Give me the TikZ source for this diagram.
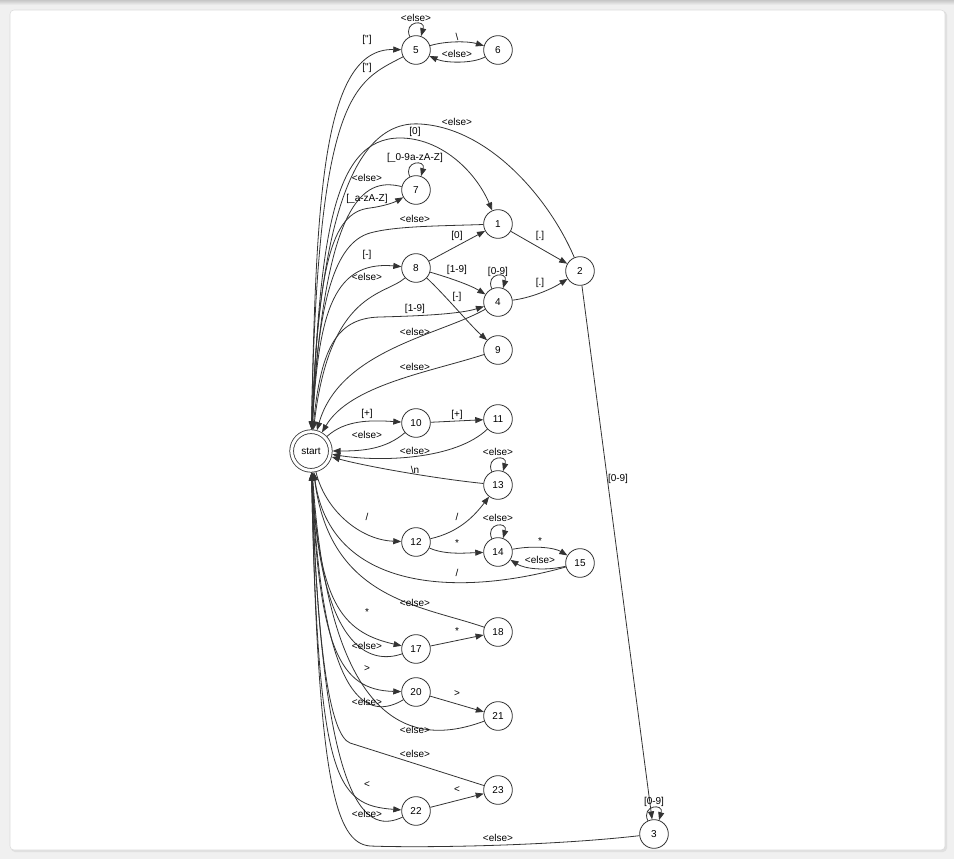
\documentclass[tikz,border=0pt]{standalone}
\usepackage{fontspec}
\setmainfont{Liberation Sans}[Ligatures=TeXOff]
\usetikzlibrary{arrows.meta}
\definecolor{bgc}{HTML}{F0F0F0}
\definecolor{ec}{HTML}{333333}
\begin{document}
\begin{tikzpicture}[x=0.75pt,y=-0.75pt,
  st/.style={circle,draw=ec,line width=0.6pt,minimum size=21.5pt,inner sep=0pt,font=\fontsize{7.5}{9}\selectfont},
  lab/.style={inner sep=0pt,font=\fontsize{7.5}{9}\selectfont},
  e/.style={draw=ec,line width=0.6pt,-{Triangle[length=6pt,width=4.5pt]}}]
\useasboundingbox (0,0) rectangle (954,859);
\fill[bgc] (0,0) rectangle (954,859);
\shade[top color=black!22,bottom color=bgc] (0,0) rectangle (954,5);
\fill[black!12,rounded corners=3pt] (11,11) rectangle (947,852);
\draw[black!14,fill=white,rounded corners=3pt] (10,10) rectangle (945,850);
% nodes
\node[st,double=white,double distance=2.2pt,minimum size=29pt,outer sep=1.7pt] (start) at (311,451) {start};
\node[st] (n5) at (416,50) {5};
\node[st] (n6) at (498,50) {6};
\node[st] (n7) at (416,190) {7};
\node[st] (n1) at (498,224) {1};
\node[st] (n2) at (580,271) {2};
\node[st] (n8) at (416,268) {8};
\node[st] (n4) at (498,302) {4};
\node[st] (n9) at (498,350) {9};
\node[st] (n10) at (416,423) {10};
\node[st] (n11) at (498,419) {11};
\node[st] (n13) at (498,485) {13};
\node[st] (n12) at (416,542) {12};
\node[st] (n14) at (498,552) {14};
\node[st] (n15) at (580,563) {15};
\node[st] (n18) at (498,632) {18};
\node[st] (n17) at (416,649) {17};
\node[st] (n20) at (416,692) {20};
\node[st] (n21) at (498,716) {21};
\node[st] (n23) at (498,790) {23};
\node[st] (n22) at (416,811) {22};
\node[st] (n3) at (654,834) {3};
% edges
\draw[e] (start) .. controls (316,200) and (322,48) .. (n5);
\draw[e] (n5) .. controls (355,82) and (318,90) .. (start);
\draw[e] (n5.115) .. controls (403,21) and (426,19) .. (n5.70);
\draw[e] (n5) .. controls (445,41) and (468,41) .. (n6);
\draw[e] (n6) .. controls (472,64) and (445,63) .. (n5);
\draw[e] (n2) .. controls (550,200) and (490,128) .. (420,124) .. controls (345,119) and (318,250) .. (start);
\draw[e] (start) .. controls (320,240) and (332,138) .. (400,138) .. controls (440,138) and (475,170) .. (n1);
\draw[e] (n7.115) .. controls (403,161) and (426,159) .. (n7.70);
\draw[e] (start) .. controls (318,270) and (330,212) .. (370,208) .. controls (385,206) and (395,202) .. (n7);
\draw[e] (n7) .. controls (370,179) and (325,185) .. (start);
\draw[e] (n1) .. controls (440,226) and (395,226) .. (370,233) .. controls (335,243) and (318,300) .. (start);
\draw[e] (start) .. controls (318,320) and (330,260) .. (n8);
\draw[e] (n8) .. controls (385,296) and (330,290) .. (start);
\draw[e] (n8) -- (n1);
\draw[e] (n8) .. controls (450,278) and (470,285) .. (n4);
\draw[e] (n8) .. controls (445,295) and (470,325) .. (n9);
\draw[e] (n1) -- (n2);
\draw[e] (n4.115) .. controls (485,273) and (508,271) .. (n4.70);
\draw[e] (n4) .. controls (530,298) and (550,290) .. (n2);
\draw[e] (start) .. controls (320,350) and (335,318) .. (380,317) .. controls (420,316) and (460,314) .. (n4);
\draw[e] (n4) .. controls (440,335) and (340,350) .. (start);
\draw[e] (n9) .. controls (430,372) and (350,385) .. (start);
\draw[e] (start) .. controls (345,420) and (370,420) .. (n10);
\draw[e] (n10) .. controls (385,450) and (360,451) .. (start);
\draw[e] (n10) -- (n11);
\draw[e] (n11) .. controls (455,460) and (380,462) .. (start);
\draw[e] (n13.115) .. controls (485,456) and (508,454) .. (n13.70);
\draw[e] (n13) .. controls (430,478) and (360,465) .. (start);
\draw[e] (start) .. controls (325,510) and (360,540) .. (n12);
\draw[e] (n12) .. controls (460,532) and (475,515) .. (n13);
\draw[e] (n12) .. controls (445,555) and (465,553) .. (n14);
\draw[e] (n14.115) .. controls (485,523) and (508,521) .. (n14.70);
\draw[e] (n14) .. controls (535,545) and (555,548) .. (n15);
\draw[e] (n15) .. controls (545,571) and (525,569) .. (n14);
\draw[e] (n15) .. controls (455,598) and (330,590) .. (start);
\draw[e] (n18) .. controls (420,605) and (330,600) .. (start);
\draw[e] (start) .. controls (318,600) and (340,632) .. (n17);
\draw[e] (n17) .. controls (370,665) and (320,650) .. (start);
\draw[e] (n17) -- (n18);
\draw[e] (start) .. controls (318,650) and (340,690) .. (n20);
\draw[e] (n20) .. controls (370,720) and (322,710) .. (start);
\draw[e] (n20) -- (n21);
\draw[e] (n21) .. controls (420,745) and (330,740) .. (start);
\draw[e] (n23) -- (350,743) .. controls (330,735) and (317,650) .. (start);
\draw[e] (start) .. controls (318,780) and (335,805) .. (n22);
\draw[e] (n22) .. controls (370,832) and (322,825) .. (start);
\draw[e] (n22) -- (n23);
\draw[e] (n2) -- (n3);
\draw[e] (n3.115) .. controls (641,805) and (664,803) .. (n3.70);
\draw[e] (n3) .. controls (550,846) and (420,848) .. (370,846) .. controls (335,843) and (318,780) .. (start);
% labels
\node[lab] (l1) at (367,40) {["]};
\node[lab] (l2) at (367,68) {["]};
\node[lab] (l3) at (416,18) {<else>};
\node[lab] (l4) at (457,37) {\textbackslash};
\node[lab] (l5) at (457,54) {<else>};
\node[lab] (l6) at (457,122) {<else>};
\node[lab] (l7) at (415,132) {[0]};
\node[lab] (l8) at (415,158) {[\_0-9a-zA-Z]};
\node[lab] (l9) at (367,178) {<else>};
\node[lab] (l10) at (367,199) {[\_a-zA-Z]};
\node[lab] (l11) at (415,219) {<else>};
\node[lab] (l12) at (540,236) {[.]};
\node[lab] (l13) at (457,236) {[0]};
\node[lab] (l14) at (367,255) {[-]};
\node[lab] (l15) at (457,270) {[1-9]};
\node[lab] (l16) at (498,272) {[0-9]};
\node[lab] (l17) at (367,277) {<else>};
\node[lab] (l18) at (540,283) {[.]};
\node[lab] (l19) at (457,297) {[-]};
\node[lab] (l20) at (415,309) {[1-9]};
\node[lab] (l21) at (415,332) {<else>};
\node[lab] (l22) at (415,367) {<else>};
\node[lab] (l23) at (367,414) {[+]};
\node[lab] (l24) at (457,415) {[+]};
\node[lab] (l25) at (367,435) {<else>};
\node[lab] (l26) at (415,451) {<else>};
\node[lab] (l27) at (498,452) {<else>};
\node[lab] (l28) at (415,470) {\textbackslash n};
\node[lab] (l29) at (618,479) {[0-9]};
\node[lab] (l30) at (367,517) {/};
\node[lab] (l31) at (457,517) {/};
\node[lab] (l32) at (498,518) {<else>};
\node[lab] (l33) at (540,541) {*};
\node[lab] (l34) at (457,543) {*};
\node[lab] (l35) at (540,560) {<else>};
\node[lab] (l36) at (457,573) {/};
\node[lab] (l37) at (415,603) {<else>};
\node[lab] (l38) at (367,612) {*};
\node[lab] (l39) at (457,631) {*};
\node[lab] (l40) at (367,646) {<else>};
\node[lab] (l41) at (367,669) {>};
\node[lab] (l42) at (457,694) {>};
\node[lab] (l43) at (367,702) {<else>};
\node[lab] (l44) at (415,730) {<else>};
\node[lab] (l45) at (415,754) {<else>};
\node[lab] (l46) at (367,785) {<};
\node[lab] (l47) at (457,790) {<};
\node[lab] (l48) at (367,814) {<else>};
\node[lab] (l49) at (654,802) {[0-9]};
\node[lab] (l50) at (498,838) {<else>};
\end{tikzpicture}
\end{document}
